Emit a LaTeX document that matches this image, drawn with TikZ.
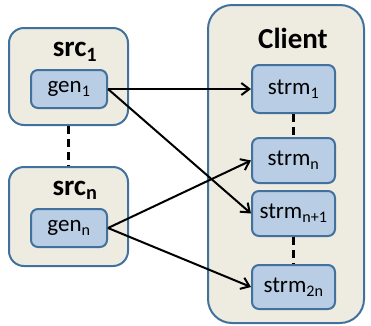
\documentclass[tikz,border=0pt]{standalone}
\usepackage{fontspec}
\setmainfont{Carlito}
\usetikzlibrary{arrows.meta}

\definecolor{boxfill}{HTML}{EEECE1}
\definecolor{boxline}{HTML}{41719C}
\definecolor{genfill}{HTML}{B9CDE5}

\tikzset{
  outerbox/.style={draw=boxline, fill=boxfill, line width=2pt, rounded corners=15pt, inner sep=0pt},
  innerbox/.style={draw=boxline, fill=genfill, line width=2pt, rounded corners=7pt, inner sep=0pt,
    minimum width=76pt, font=\fontsize{23}{25}\selectfont},
  title/.style={font=\fontsize{29}{31}\selectfont\bfseries, inner sep=0pt},
  link/.style={line width=2pt, -{Straight Barb[length=8pt,width=12pt,line width=2pt]}},
  dots/.style={line width=2.2pt, dash pattern=on 8pt off 5pt}
}

\begin{document}
\begin{tikzpicture}[x=1pt,y=-1pt]
\useasboundingbox (0,0) rectangle (371,325);
% sources
\node[outerbox, minimum width=119pt, minimum height=97pt] (src1) at (68.5,76.5) {};
\node[outerbox, minimum width=119pt, minimum height=99pt] (srcn) at (68.5,216.5) {};
\node[title] (src1lbl) at (75,52) {src\textsubscript{1}};
\node[title] (srcnlbl) at (75,190) {src\textsubscript{n}};
\node[innerbox, minimum height=38pt] (gen1) at (69,89) {gen\textsubscript{1}};
\node[innerbox, minimum height=38pt] (genn) at (69,228) {gen\textsubscript{n}};
\draw[dots] (src1.south) -- (srcn.north);
% client
\node[outerbox, rounded corners=24pt, minimum width=156pt, minimum height=318pt] (client) at (286,164) {};
\node[title] (clientlbl) at (293,38) {Client};
\node[innerbox, minimum width=83pt, minimum height=48pt] (strm1) at (293.5,89) {strm\textsubscript{1}};
\node[innerbox, minimum width=83pt, minimum height=45pt] (strmn) at (293.5,160.5) {strm\textsubscript{n}};
\node[innerbox, minimum width=83pt, minimum height=45pt] (strmn1) at (293.5,213.5) {strm\textsubscript{n+1}};
\node[innerbox, minimum width=83pt, minimum height=44pt] (strm2n) at (293.5,287) {strm\textsubscript{2n}};
\draw[dots] (strm1.south) -- (strmn.north);
\draw[dots] (strmn1.south) -- (strm2n.north);
% streams
\draw[link] (gen1.east) -- (strm1.west);
\draw[link] (gen1.east) -- (strmn1.west);
\draw[link] (genn.east) -- (strmn.west);
\draw[link] (genn.east) -- (strm2n.west);
\end{tikzpicture}
\end{document}
